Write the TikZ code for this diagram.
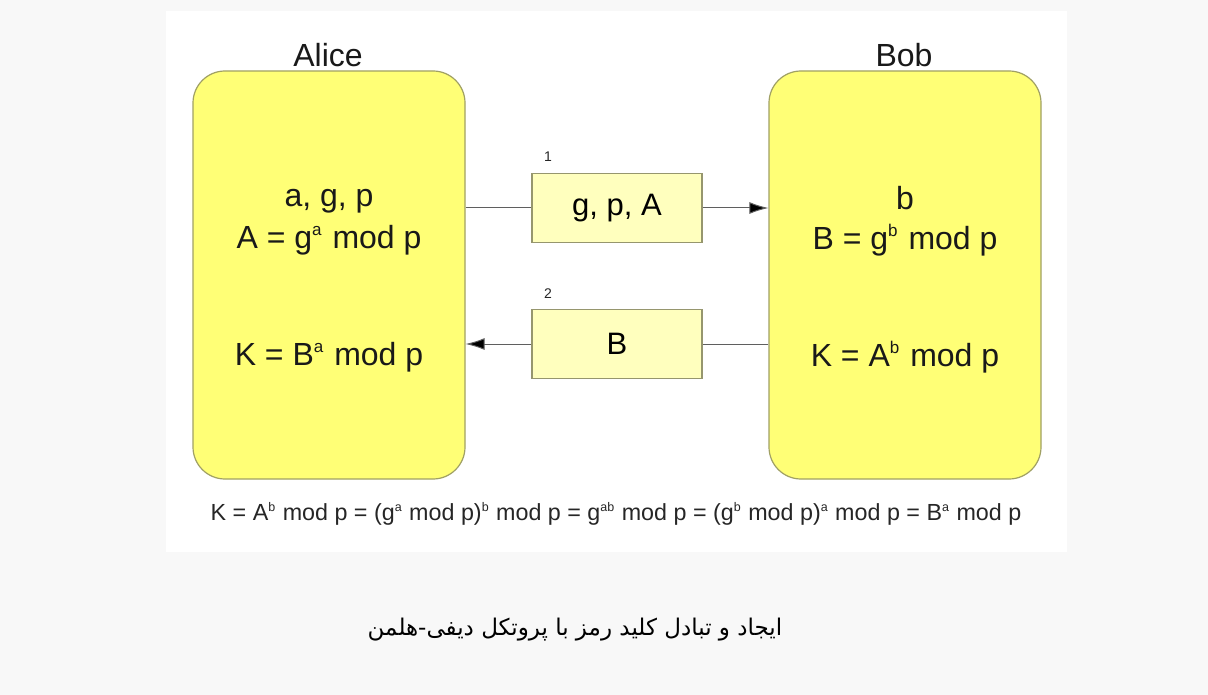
\documentclass[tikz,border=0pt]{standalone}
\usepackage{fontspec}
\setmainfont{Liberation Sans}
\newfontfamily\arabicfont[Script=Arabic]{DejaVu Sans}
\TeXXeTstate=1
\usetikzlibrary{arrows.meta}
\definecolor{outerbg}{RGB}{248,248,248}
\definecolor{partyfill}{RGB}{255,255,118}
\definecolor{partyline}{RGB}{160,160,100}
\definecolor{msgfill}{RGB}{255,255,190}
\definecolor{msgline}{RGB}{150,150,110}
\definecolor{wire}{RGB}{95,95,95}
\newcommand\supbig[1]{\raisebox{13pt}{\fontsize{17}{17}\selectfont #1}\hspace{2pt}}
\newcommand\supsm[1]{\raisebox{8.5pt}{\fontsize{12.5}{12.5}\selectfont #1}\hspace{1pt}}
\tikzset{
  party/.style={draw=partyline, fill=partyfill, line width=1.2pt, rounded corners=32pt,
    minimum width=272pt, minimum height=408pt, inner sep=0pt},
  msgbox/.style={draw=msgline, fill=msgfill, line width=1.2pt,
    minimum width=170pt, minimum height=69pt, inner sep=0pt,
    font=\fontsize{31}{34}\selectfont},
  bigtxt/.style={font=\fontsize{32}{36}\selectfont, text=black!90, inner sep=0pt},
  smalltxt/.style={font=\fontsize{14}{16}\selectfont, text=black!85, inner sep=0pt},
  wireline/.style={draw=wire, line width=1pt},
  wirearrow/.style={wireline, -{Latex[length=19pt,width=12pt,fill=black]}}
}
\begin{document}
\begin{tikzpicture}[x=1pt,y=-1pt]
\useasboundingbox (0,0) rectangle (1208,695);
\fill[outerbg] (0,0) rectangle (1208,695);
\fill[white] (166,11) rectangle (1067,552);

\node[party] (alice) at (329,275) {};
\node[party] (bob) at (905,275) {};
\node[bigtxt] (alicename) at (328,55) {Alice};
\node[bigtxt] (bobname) at (904,55) {Bob};

\node[bigtxt] (a1) at (329,201) {a, g, p};
\node[bigtxt] (a2) at (329,240) {A = g\supbig{a} mod p};
\node[bigtxt] (a3) at (329,357) {K = B\supbig{a} mod p};
\node[bigtxt] (b1) at (905,198) {b};
\node[bigtxt] (b2) at (905,240) {B = g\supbig{b} mod p};
\node[bigtxt] (b3) at (905,357) {K = A\supbig{b} mod p};

\node[msgbox] (msg1) at (617,208) {\raisebox{-2pt}{g, p, A}};
\node[msgbox] (msg2) at (617,344) {\raisebox{-2pt}{B}};
\node[smalltxt] (n1) at (548,157) {1};
\node[smalltxt] (n2) at (548,294) {2};

\draw[wireline] (msg1.west -| alice.east) -- (msg1.west);
\draw[wirearrow] (msg1.east) -- (msg1.east -| bob.west);
\draw[wireline] (msg2.east -| bob.west) -- (msg2.east);
\draw[wirearrow] (msg2.west) -- (msg2.west -| alice.east);

\node[font=\fontsize{23.3}{25}\selectfont, text=black!85, inner sep=0pt] (formula) at (616,514)
  {K = A\supsm{b} mod p = (g\supsm{a} mod p)\supsm{b} mod p = g\supsm{ab} mod p = (g\supsm{b} mod p)\supsm{a} mod p = B\supsm{a} mod p};

\node[font=\arabicfont\fontsize{23}{28}\selectfont, inner sep=0pt] (caption) at (575,630)
  {\beginR ایجاد و تبادل کلید رمز با پروتکل دیفی-هلمن\endR};
\end{tikzpicture}
\end{document}
